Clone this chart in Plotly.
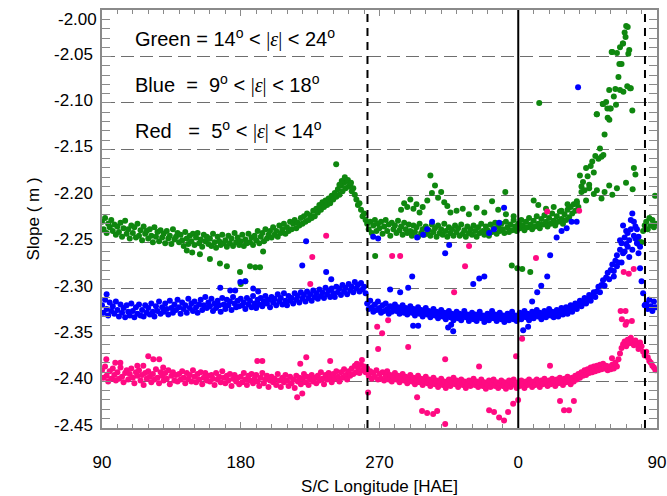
import plotly.graph_objects as go

# Spacecraft longitude, unwrapped so the axis runs 90 -> 450 (shown as 90 ... 0 ... 90)
band_lon = list(range(90, 450))

# Power-law slope per longitude step, for three elongation ranges
green_slope = [
    -2.228, -2.236, -2.224, -2.240, -2.230, -2.234, -2.226, -2.238, -2.231, -2.242,
    -2.233, -2.239, -2.229, -2.244, -2.235, -2.227, -2.241, -2.236, -2.246, -2.232,
    -2.240, -2.234, -2.245, -2.230, -2.243, -2.237, -2.248, -2.233, -2.241, -2.238,
    -2.246, -2.236, -2.243, -2.250, -2.234, -2.244, -2.239, -2.249, -2.237, -2.245,
    -2.241, -2.251, -2.238, -2.246, -2.243, -2.252, -2.236, -2.247, -2.244, -2.240,
    -2.250, -2.242, -2.248, -2.254, -2.239, -2.246, -2.252, -2.243, -2.249, -2.241,
    -2.253, -2.245, -2.240, -2.251, -2.247, -2.255, -2.242, -2.249, -2.244, -2.252,
    -2.246, -2.254, -2.241, -2.250, -2.256, -2.244, -2.249, -2.253, -2.242, -2.251,
    -2.248, -2.255, -2.243, -2.251, -2.246, -2.254, -2.240, -2.250, -2.245, -2.253,
    -2.249, -2.242, -2.254, -2.247, -2.251, -2.241, -2.250, -2.245, -2.253, -2.243,
    -2.248, -2.238, -2.251, -2.244, -2.240, -2.249, -2.236, -2.246, -2.242, -2.238,
    -2.245, -2.234, -2.242, -2.238, -2.244, -2.232, -2.240, -2.236, -2.230, -2.241,
    -2.234, -2.238, -2.228, -2.236, -2.230, -2.226, -2.235, -2.229, -2.232, -2.224,
    -2.230, -2.222, -2.228, -2.219, -2.226, -2.221, -2.224, -2.216, -2.222, -2.214,
    -2.218, -2.210, -2.215, -2.207, -2.212, -2.205, -2.210, -2.203, -2.208, -2.200,
    -2.204, -2.197, -2.201, -2.193, -2.199, -2.189, -2.195, -2.186, -2.192, -2.184,
    -2.190, -2.188, -2.195, -2.192, -2.199, -2.204, -2.210, -2.208, -2.215, -2.222,
    -2.219, -2.226, -2.230, -2.236, -2.228, -2.240, -2.232, -2.226, -2.238, -2.230,
    -2.235, -2.228, -2.241, -2.233, -2.226, -2.238, -2.231, -2.243, -2.229, -2.236,
    -2.232, -2.240, -2.227, -2.237, -2.233, -2.242, -2.229, -2.236, -2.240, -2.231,
    -2.238, -2.243, -2.232, -2.239, -2.234, -2.244, -2.230, -2.240, -2.236, -2.242,
    -2.233, -2.241, -2.237, -2.243, -2.231, -2.239, -2.235, -2.244, -2.232, -2.240,
    -2.236, -2.242, -2.230, -2.238, -2.244, -2.234, -2.240, -2.236, -2.243, -2.232,
    -2.239, -2.235, -2.243, -2.231, -2.241, -2.237, -2.244, -2.233, -2.240, -2.236,
    -2.242, -2.232, -2.238, -2.244, -2.234, -2.240, -2.230, -2.238, -2.242, -2.233,
    -2.237, -2.243, -2.231, -2.239, -2.235, -2.229, -2.241, -2.233, -2.238, -2.230,
    -2.236, -2.240, -2.228, -2.234, -2.239, -2.231, -2.237, -2.226, -2.233, -2.238,
    -2.230, -2.235, -2.226, -2.232, -2.237, -2.228, -2.234, -2.224, -2.231, -2.236,
    -2.227, -2.233, -2.222, -2.230, -2.235, -2.225, -2.231, -2.221, -2.228, -2.233,
    -2.224, -2.230, -2.219, -2.227, -2.232, -2.222, -2.228, -2.217, -2.225, -2.230,
    -2.220, -2.226, -2.215, -2.223, -2.212, -2.219, -2.209, -2.216, -2.206, -2.212,
    -2.178, -2.190, -2.185, -2.194, -2.170, -2.179, -2.188, -2.168, -2.163, -2.175,
    -2.157, -2.112, -2.160, -2.149, -2.158, -2.101, -2.134, -2.099, -2.116, -2.086,
    -2.106, -2.045, -2.093, -2.085, -2.046, -2.072, -2.040, -2.058, -2.036, -2.024,
    -2.017, -2.018, -2.043, -2.084, -2.108, -2.170, -2.177, -2.247, -2.252, -2.250,
    -2.250, -2.238, -2.232, -2.228, -2.236, -2.224, -2.232, -2.226, -2.234, -2.230,
]

blue_slope = [
    -2.318, -2.326, -2.312, -2.322, -2.329, -2.315, -2.324, -2.319, -2.327, -2.314,
    -2.323, -2.330, -2.317, -2.326, -2.321, -2.331, -2.318, -2.325, -2.329, -2.316,
    -2.324, -2.331, -2.320, -2.327, -2.317, -2.329, -2.323, -2.330, -2.318, -2.326,
    -2.321, -2.328, -2.316, -2.325, -2.330, -2.319, -2.324, -2.314, -2.327, -2.320,
    -2.325, -2.316, -2.322, -2.328, -2.313, -2.321, -2.326, -2.317, -2.323, -2.312,
    -2.320, -2.327, -2.315, -2.322, -2.318, -2.326, -2.311, -2.321, -2.316, -2.324,
    -2.314, -2.320, -2.326, -2.317, -2.312, -2.323, -2.318, -2.309, -2.321, -2.315,
    -2.319, -2.311, -2.324, -2.316, -2.321, -2.313, -2.318, -2.325, -2.310, -2.317,
    -2.322, -2.312, -2.318, -2.314, -2.323, -2.309, -2.316, -2.320, -2.313, -2.319,
    -2.311, -2.318, -2.315, -2.322, -2.310, -2.317, -2.313, -2.320, -2.308, -2.316,
    -2.321, -2.312, -2.317, -2.310, -2.319, -2.314, -2.308, -2.316, -2.312, -2.320,
    -2.309, -2.315, -2.311, -2.318, -2.306, -2.314, -2.310, -2.317, -2.305, -2.313,
    -2.318, -2.308, -2.313, -2.310, -2.316, -2.305, -2.312, -2.308, -2.315, -2.304,
    -2.311, -2.307, -2.314, -2.303, -2.310, -2.306, -2.313, -2.302, -2.309, -2.305,
    -2.311, -2.301, -2.308, -2.304, -2.310, -2.299, -2.306, -2.302, -2.309, -2.300,
    -2.305, -2.309, -2.298, -2.304, -2.300, -2.307, -2.296, -2.303, -2.299, -2.306,
    -2.295, -2.302, -2.298, -2.304, -2.293, -2.300, -2.296, -2.303, -2.294, -2.301,
    -2.298, -2.305, -2.316, -2.322, -2.313, -2.320, -2.325, -2.317, -2.323, -2.314,
    -2.321, -2.326, -2.318, -2.324, -2.316, -2.322, -2.327, -2.319, -2.325, -2.321,
    -2.317, -2.324, -2.320, -2.327, -2.322, -2.318, -2.326, -2.321, -2.328, -2.323,
    -2.319, -2.326, -2.322, -2.329, -2.324, -2.320, -2.327, -2.323, -2.330, -2.325,
    -2.321, -2.328, -2.324, -2.331, -2.326, -2.322, -2.329, -2.325, -2.332, -2.327,
    -2.323, -2.330, -2.326, -2.333, -2.328, -2.324, -2.331, -2.327, -2.334, -2.329,
    -2.325, -2.332, -2.327, -2.334, -2.329, -2.324, -2.331, -2.328, -2.335, -2.330,
    -2.326, -2.333, -2.328, -2.335, -2.330, -2.325, -2.332, -2.329, -2.336, -2.331,
    -2.327, -2.334, -2.329, -2.324, -2.332, -2.328, -2.335, -2.330, -2.326, -2.333,
    -2.329, -2.336, -2.331, -2.327, -2.334, -2.330, -2.325, -2.333, -2.329, -2.335,
    -2.330, -2.326, -2.333, -2.328, -2.324, -2.331, -2.327, -2.334, -2.329, -2.325,
    -2.332, -2.327, -2.323, -2.330, -2.326, -2.333, -2.328, -2.324, -2.331, -2.326,
    -2.322, -2.329, -2.325, -2.331, -2.327, -2.323, -2.330, -2.325, -2.321, -2.328,
    -2.324, -2.320, -2.327, -2.322, -2.318, -2.325, -2.320, -2.316, -2.322, -2.318,
    -2.313, -2.319, -2.315, -2.310, -2.316, -2.311, -2.307, -2.313, -2.308, -2.304,
    -2.309, -2.303, -2.298, -2.304, -2.296, -2.291, -2.297, -2.288, -2.283, -2.290,
    -2.280, -2.274, -2.281, -2.270, -2.264, -2.272, -2.258, -2.251, -2.262, -2.245,
    -2.252, -2.240, -2.248, -2.236, -2.219, -2.243, -2.233, -2.251, -2.262, -2.278,
    -2.292, -2.305, -2.318, -2.316, -2.322, -2.312, -2.319, -2.324, -2.314, -2.320,
]

red_slope = [
    -2.388, -2.396, -2.384, -2.394, -2.400, -2.389, -2.397, -2.386, -2.393, -2.399,
    -2.390, -2.397, -2.385, -2.395, -2.401, -2.391, -2.388, -2.398, -2.392, -2.386,
    -2.396, -2.402, -2.390, -2.394, -2.388, -2.399, -2.393, -2.404, -2.391, -2.397,
    -2.389, -2.395, -2.401, -2.392, -2.398, -2.387, -2.396, -2.402, -2.390, -2.394,
    -2.399, -2.391, -2.397, -2.388, -2.403, -2.394, -2.390, -2.399, -2.393, -2.400,
    -2.392, -2.398, -2.389, -2.396, -2.402, -2.391, -2.397, -2.393, -2.400, -2.388,
    -2.395, -2.401, -2.392, -2.398, -2.390, -2.403, -2.396, -2.391, -2.399, -2.394,
    -2.400, -2.393, -2.397, -2.404, -2.391, -2.398, -2.395, -2.401, -2.389, -2.396,
    -2.402, -2.394, -2.399, -2.392, -2.405, -2.397, -2.393, -2.400, -2.396, -2.403,
    -2.395, -2.401, -2.391, -2.398, -2.404, -2.394, -2.399, -2.392, -2.402, -2.397,
    -2.393, -2.400, -2.405, -2.396, -2.391, -2.402, -2.398, -2.394, -2.406, -2.399,
    -2.395, -2.401, -2.397, -2.404, -2.392, -2.399, -2.406, -2.396, -2.401, -2.393,
    -2.399, -2.405, -2.395, -2.402, -2.398, -2.407, -2.394, -2.400, -2.396, -2.403,
    -2.397, -2.392, -2.401, -2.395, -2.404, -2.398, -2.393, -2.400, -2.396, -2.402,
    -2.394, -2.399, -2.390, -2.397, -2.403, -2.393, -2.398, -2.391, -2.396, -2.401,
    -2.392, -2.397, -2.389, -2.395, -2.400, -2.390, -2.396, -2.387, -2.393, -2.398,
    -2.389, -2.394, -2.386, -2.392, -2.383, -2.390, -2.385, -2.391, -2.382, -2.388,
    -2.384, -2.390, -2.386, -2.394, -2.389, -2.397, -2.391, -2.395, -2.388, -2.398,
    -2.392, -2.397, -2.390, -2.399, -2.394, -2.389, -2.398, -2.393, -2.400, -2.395,
    -2.391, -2.398, -2.394, -2.401, -2.396, -2.392, -2.399, -2.395, -2.402, -2.397,
    -2.393, -2.400, -2.396, -2.403, -2.398, -2.394, -2.401, -2.397, -2.404, -2.399,
    -2.395, -2.402, -2.398, -2.405, -2.400, -2.396, -2.403, -2.399, -2.406, -2.401,
    -2.397, -2.404, -2.400, -2.407, -2.402, -2.398, -2.405, -2.401, -2.396, -2.403,
    -2.399, -2.406, -2.402, -2.398, -2.404, -2.400, -2.407, -2.403, -2.399, -2.405,
    -2.401, -2.397, -2.404, -2.400, -2.406, -2.402, -2.398, -2.405, -2.401, -2.408,
    -2.403, -2.399, -2.406, -2.402, -2.398, -2.405, -2.401, -2.407, -2.403, -2.399,
    -2.405, -2.401, -2.408, -2.403, -2.399, -2.406, -2.402, -2.398, -2.404, -2.407,
    -2.401, -2.405, -2.399, -2.403, -2.407, -2.400, -2.404, -2.398, -2.402, -2.406,
    -2.400, -2.404, -2.398, -2.402, -2.406, -2.399, -2.403, -2.397, -2.401, -2.405,
    -2.399, -2.403, -2.397, -2.401, -2.405, -2.398, -2.402, -2.396, -2.400, -2.404,
    -2.397, -2.401, -2.395, -2.399, -2.403, -2.396, -2.400, -2.394, -2.398, -2.392,
    -2.396, -2.390, -2.394, -2.388, -2.393, -2.387, -2.391, -2.385, -2.390, -2.384,
    -2.389, -2.383, -2.388, -2.382, -2.387, -2.381, -2.386, -2.383, -2.388, -2.384,
    -2.387, -2.382, -2.386, -2.380, -2.384, -2.376, -2.370, -2.364, -2.360, -2.357,
    -2.362, -2.355, -2.359, -2.353, -2.357, -2.361, -2.356, -2.360, -2.365, -2.358,
    -2.362, -2.368, -2.372, -2.368, -2.374, -2.378, -2.380, -2.383, -2.385, -2.388,
]

# Scattered points off the main bands
green_extra_lon = [241.9, 245.5, 247.5, 249.5, 251.5, 244.0,
                   145.0, 148.5, 153.5, 160.0, 166.5, 171.0, 179.5, 183.0, 180.0, 186.0, 189.5, 192.5, 194.5,
                   284, 286, 288, 290, 292, 294, 296, 298, 301, 303, 304, 306, 308, 310, 312, 314, 316,
                   320, 324, 328, 333, 338, 343, 347, 351.6, 352, 357,
                   267.2, 355.8, 359.4, 362.6, 367.8, 373.6,
                   370, 373, 378, 383, 388, 392,
                   398, 401, 404, 406, 409, 411, 414, 416, 419, 421, 424,
                   414.8, 423.4, 417.8, 419.5, 410.9, 419.1, 415.2, 430.7, 432.5, 429.9, 434.2, 431.4,
                   428.2, 426.0, 420.6, 425.6, 427.8, 429.6,
                   448.7]
green_extra_slope = [-2.166, -2.184, -2.180, -2.183, -2.186, -2.188,
                     -2.259, -2.261, -2.263, -2.268, -2.273, -2.276, -2.282, -2.292, -2.295, -2.276, -2.277, -2.277, -2.260,
                     -2.215, -2.208, -2.212, -2.204, -2.214, -2.209, -2.218, -2.212, -2.205, -2.178, -2.197, -2.189,
                     -2.202, -2.196, -2.207, -2.211, -2.218,
                     -2.216, -2.214, -2.220, -2.213, -2.218, -2.206, -2.215, -2.196, -2.220, -2.222,
                     -2.265, -2.275, -2.278, -2.279, -2.282, -2.100,
                     -2.205, -2.210, -2.214, -2.212, -2.216, -2.209,
                     -2.208, -2.196, -2.205, -2.192, -2.198, -2.194, -2.203, -2.196, -2.189, -2.199, -2.192,
                     -2.101, -2.102, -2.106, -2.106, -2.112, -2.118, -2.156, -2.082, -2.084, -2.186, -2.193, -2.047,
                     -2.088, -2.086, -2.045, -2.058, -2.036, -2.029,
                     -2.200]

blue_extra_lon = [93, 398.8, 265.9, 269.1, 294.4, 298.3, 300.9, 304.1, 315.2, 341.1, 344.3, 347.6, 350.8,
                  384.9, 388.1, 391.4, 394.6, 397.9, 222.4, 219.9, 235.4, 238.7, 166.7, 173.2, 176.4, 179.7,
                  182.9, 188.1, 191.3, 312.6, 330.8, 334.7, 338.0, 276.9, 283.4, 288.6, 291.2, 291.8, 295.1,
                  314.5, 317.8, 316.5, 366.4, 363.2, 369.0, 372.3, 374.9, 378.8, 380.7,
                  428, 430, 431, 433, 435, 436, 437, 438, 439, 426, 429, 432, 434, 424, 422, 427]
blue_extra_slope = [-2.306, -2.083, -2.244, -2.246, -2.245, -2.242, -2.236, -2.228, -2.253, -2.240, -2.236, -2.229, -2.213,
                    -2.245, -2.238, -2.235, -2.228, -2.228, -2.249, -2.275, -2.282, -2.290, -2.299, -2.302, -2.302, -2.293,
                    -2.292, -2.300, -2.303, -2.262, -2.295, -2.289, -2.287, -2.301, -2.304, -2.299, -2.287, -2.340, -2.340,
                    -2.342, -2.346, -2.339, -2.341, -2.345, -2.314, -2.304, -2.297, -2.287, -2.264,
                    -2.232, -2.238, -2.255, -2.226, -2.228, -2.246, -2.236, -2.244, -2.255, -2.248, -2.260, -2.266,
                    -2.258, -2.276, -2.287, -2.272]

red_extra_lon = [269.1, 268.5, 271.7, 275.6, 288.6, 278.2, 283.4, 262.6, 294.4, 297.6, 300.9, 304.8, 307.4,
                 312.6, 312.6, 318.4, 325.5, 334.6, 341.1, 344.3, 347.6, 350.8, 353.4, 356.7, 358.6, 359.9,
                 362.5, 371.5, 380.6, 387.1, 389.7, 392.9, 396.1, 420.8, 427.2, 430.4, 433.7, 429.6, 429.6,
                 426.4, 428.4, 434.9, 431.7, 328.1, 399.5, 378.8, 235.4, 226.4, 225.1, 216.6, 219.9, 222.5,
                 218.6, 120.0, 123.3, 127.1, 190.7, 194.0, 238.0, 92.8, 98.6, 101.9, 112.9, 116.8, 129.7,
                 258.6, 255.3]
red_extra_slope = [-2.365, -2.341, -2.348, -2.334, -2.363, -2.265, -2.265, -2.412, -2.417, -2.432, -2.434, -2.435, -2.432,
                   -2.446, -2.376, -2.304, -2.276, -2.384, -2.431, -2.433, -2.439, -2.442, -2.433, -2.424, -2.373, -2.420,
                   -2.354, -2.267, -2.383, -2.421, -2.431, -2.431, -2.421, -2.375, -2.333, -2.336, -2.335, -2.339, -2.324,
                   -2.324, -2.282, -2.279, -2.284, -2.254, -2.216, -2.217, -2.243, -2.266, -2.295, -2.417, -2.413, -2.374,
                   -2.381, -2.373, -2.376, -2.376, -2.378, -2.378, -2.378, -2.376, -2.380, -2.380, -2.383, -2.383, -2.385,
                   -2.377, -2.381]

# Longitudes of reference markers
dashed_lons = [262.2, 442.2]
solid_lons = [360.0]

# Axis ticks (the top label sits just inside the frame, drawn separately below)
x_tickvals = [90, 180, 270, 360, 450]
x_ticktext = ["90", "180", "270", "0", "90"]
y_tickvals = [-2.45, -2.40, -2.35, -2.30, -2.25, -2.20, -2.15, -2.10, -2.05, -2.00]
y_ticktext = ["-2.45", "-2.40", "-2.35", "-2.30", "-2.25", "-2.20", "-2.15", "-2.10", "-2.05", ""]
y_top_label = "-2.00"

legend_lines = [
    "Green\u00a0=\u00a014<sup>o</sup> < <span style=\"font-family:'Liberation Serif'\">|<i>\u03b5</i>|</span> < 24<sup>o</sup>",
    "Blue\u00a0\u00a0=\u00a0\u00a09<sup>o</sup> < <span style=\"font-family:'Liberation Serif'\">|<i>\u03b5</i>|</span> < 18<sup>o</sup>",
    "Red\u00a0\u00a0\u00a0=\u00a0\u00a05<sup>o</sup> < <span style=\"font-family:'Liberation Serif'\">|<i>\u03b5</i>|</span> < 14<sup>o</sup>",
]

for lon, vals in ((band_lon, green_slope), (band_lon, blue_slope), (band_lon, red_slope),
                  (green_extra_lon, green_extra_slope), (blue_extra_lon, blue_extra_slope),
                  (red_extra_lon, red_extra_slope)):
    assert len(lon) == len(vals)

FONT = "Liberation Sans, Arial, Helvetica, sans-serif"
AXIS_GRAY = "#8a8a8a"

fig = go.Figure()
series = [
    (band_lon + green_extra_lon, green_slope + green_extra_slope, "#0f870f"),
    (band_lon + blue_extra_lon, blue_slope + blue_extra_slope, "#0000ff"),
    (band_lon + red_extra_lon, red_slope + red_extra_slope, "#ff0a82"),
]
for xs, ys, color in series:
    fig.add_trace(go.Scatter(
        x=xs, y=ys, mode="markers",
        marker=dict(size=6, color=color, line=dict(width=0)),
        showlegend=False, hoverinfo="skip",
    ))

shapes = []
for lon in dashed_lons:
    shapes.append(dict(type="line", xref="x", yref="paper", x0=lon, x1=lon, y0=0, y1=1,
                       line=dict(color="black", width=2, dash="8px,6px"), layer="above"))
for lon in solid_lons:
    shapes.append(dict(type="line", xref="x", yref="paper", x0=lon, x1=lon, y0=0, y1=1,
                       line=dict(color="black", width=2), layer="above"))

annotations = []
for i, txt in enumerate(legend_lines):
    annotations.append(dict(
        text=txt, xref="paper", yref="paper", x=0.056, y=0.934 - i * 0.11,
        xanchor="left", yanchor="middle", showarrow=False,
        font=dict(family=FONT, size=20, color="black"),
    ))
annotations.append(dict(
    text=y_top_label, xref="paper", yref="y", x=0, y=y_tickvals[-1],
    xanchor="right", yanchor="middle", xshift=-3, yshift=-9, showarrow=False,
    font=dict(family=FONT, size=17, color="black"),
))

fig.update_layout(
    width=667, height=496,
    margin=dict(l=102, r=10, t=10, b=68),
    paper_bgcolor="white", plot_bgcolor="white",
    font=dict(family=FONT, size=17, color="black"),
    shapes=shapes, annotations=annotations,
    xaxis=dict(
        range=[90, 450], autorange=False, automargin=False,
        tickmode="array", tickvals=x_tickvals, ticktext=x_ticktext,
        ticks="inside", ticklen=6, tickcolor=AXIS_GRAY, tickwidth=1,
        minor=dict(tickmode="array", tickvals=list(range(100, 450, 10)),
                   ticks="inside", ticklen=4, tickcolor=AXIS_GRAY, showgrid=False),
        showline=True, linecolor=AXIS_GRAY, linewidth=1.5, mirror="allticks",
        showgrid=False, zeroline=False,
        ticklabelstandoff=18,
        tickfont=dict(family=FONT, size=17, color="black"),
        title=dict(text="S/C Longitude [HAE]", standoff=14,
                   font=dict(family=FONT, size=17, color="black")),
    ),
    yaxis=dict(
        range=[-2.4502, -1.9998], autorange=False, automargin=False,
        tickmode="array", tickvals=y_tickvals, ticktext=y_ticktext,
        ticks="inside", ticklen=9, tickcolor=AXIS_GRAY, tickwidth=1,
        minor=dict(dtick=0.01, tick0=-2.45, ticks="inside", ticklen=8,
                   tickcolor=AXIS_GRAY, showgrid=False),
        showline=True, linecolor=AXIS_GRAY, linewidth=1.5, mirror="allticks",
        showgrid=True, gridcolor="#6e6e6e", gridwidth=1, griddash="13px,6px",
        zeroline=False,
        ticklabelstandoff=4, ticklabelshift=-3,
        tickfont=dict(family=FONT, size=17, color="black"),
        title=dict(text="Slope ( m )", standoff=10,
                   font=dict(family=FONT, size=17, color="black")),
    ),
)

fig.write_html("out.html")
